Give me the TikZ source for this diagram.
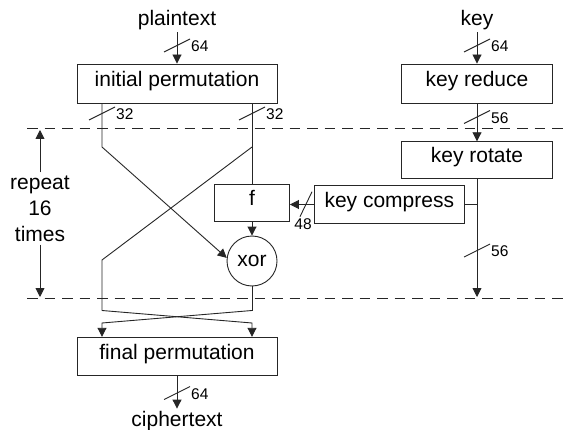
\documentclass[tikz,border=0pt]{standalone}
\usepackage{fontspec}
\setmainfont{Liberation Sans}
\usetikzlibrary{arrows.meta,calc}

\tikzset{
  wire/.style={line width=0.9pt, draw=black!85},
  arr/.style={wire, -{Triangle[length=9pt,width=9pt]}},
  bigtext/.style={font=\fontsize{21}{26}\selectfont},
  smalltext/.style={font=\fontsize{15.5}{18}\selectfont, inner sep=0pt},
  blk/.style={draw=black!85, line width=0.9pt, bigtext, inner sep=0pt,
    text height=0.72em, text depth=0.21em},
  xorbox/.style={circle, draw=black!85, line width=0.9pt, bigtext, inner sep=0pt,
    minimum size=50pt},
  label text/.style={bigtext, anchor=base, inner sep=2pt},
  round line/.style={line width=0.9pt, draw=black!85, dash pattern=on 10.5pt off 7pt},
  pics/bus/.style={code={
    \draw[wire] (-13,6.5) -- (13,-6.5);
    \node[smalltext, anchor=west] at (14,0.7) {#1};
  }},
}

\begin{document}
\begin{tikzpicture}[x=1pt,y=-1pt]
\useasboundingbox[fill=white] (0,0) rectangle (564,430);

% round boundaries
\coordinate (dtl) at (27,128);
\coordinate (dtr) at (564,128);
\coordinate (dbl) at (27,298);
\coordinate (dbr) at (564,298);
\draw[round line] (dtl) -- (dtr);
\draw[round line] (dbl) -- (dbr);

% data path blocks
\node[label text] (pt) at (177,25.5) {plaintext};
\node[blk, minimum width=200pt, minimum height=39pt] (ip) at (177,83.5) {initial permutation};
\node[blk, minimum width=75pt, minimum height=37pt] (f) at (252,202.5) {f};
\node[xorbox] (xor) at (252,261) {xor};
\node[blk, minimum width=200pt, minimum height=38.5pt] (fp) at (177,356.5) {final permutation};
\node[label text] (ct) at (177,426) {ciphertext};

% key schedule blocks
\node[label text] (key) at (477,25.5) {key};
\node[blk, minimum width=151pt, minimum height=39pt] (kr) at (477,83.5) {key reduce};
\node[blk, minimum width=151pt, minimum height=36.5pt] (krot) at (477,160) {key rotate};
\node[blk, minimum width=150pt, minimum height=37.5pt] (kc) at (389.3,204.5) {key compress};

% loop count
\node[bigtext, align=center, inner sep=3pt] (rep) at (40,208.5) {repeat\\16\\times};
\draw[arr] (rep.north) -- (40,130);
\draw[arr] (rep.south) -- (40,297);

% bend points of the swapped halves
\coordinate (l1) at (102,147);
\coordinate (r1) at (252,147);
\coordinate (l2) at (102,260);
\coordinate (l3) at (102,310.5);
\coordinate (r3) at (252,310.5);
\coordinate (l4) at (102,323);
\coordinate (r4) at (252,323);
\coordinate (kend) at (477,297);

% data path wiring
\draw[arr] (pt.south) -- (ip.north);
\draw[arr] (ip.south -| l1) -- (l1) -- (xor.173);
\draw[wire] (ip.south -| r1) -- (f.north);
\draw[wire] (r1) -- (l2) -- (l3);
\draw[arr] (f.south) -- (xor.north);
\draw[wire] (xor.south) -- (r3);
\draw[arr] (l3) -- (r4) -- (fp.north -| r4);
\draw[arr] (r3) -- (l4) -- (fp.north -| l4);
\draw[arr] (fp.south) -- (ct.north);

% key schedule wiring
\draw[arr] (key.south) -- (kr.north);
\draw[arr] (kr.south) -- (krot.north);
\draw[arr] (krot.south) -- (kend);
\draw[wire] (kc.east) -- (kc.east -| krot.south);
\draw[arr] (kc.west) -- (kc.west -| f.east);

% bus widths
\pic at (177,45.5) {bus=64};
\pic at (477,45.5) {bus=64};
\pic at (102,113.5) {bus=32};
\pic at (252,113.5) {bus=32};
\pic at (477,117) {bus=56};
\pic at (477,250.5) {bus=56};
\pic at (177,393) {bus=64};
\draw[wire] (300,216.7) -- (312,191.7);
\node[smalltext] (w48) at (303,224) {48};
\end{tikzpicture}
\end{document}
